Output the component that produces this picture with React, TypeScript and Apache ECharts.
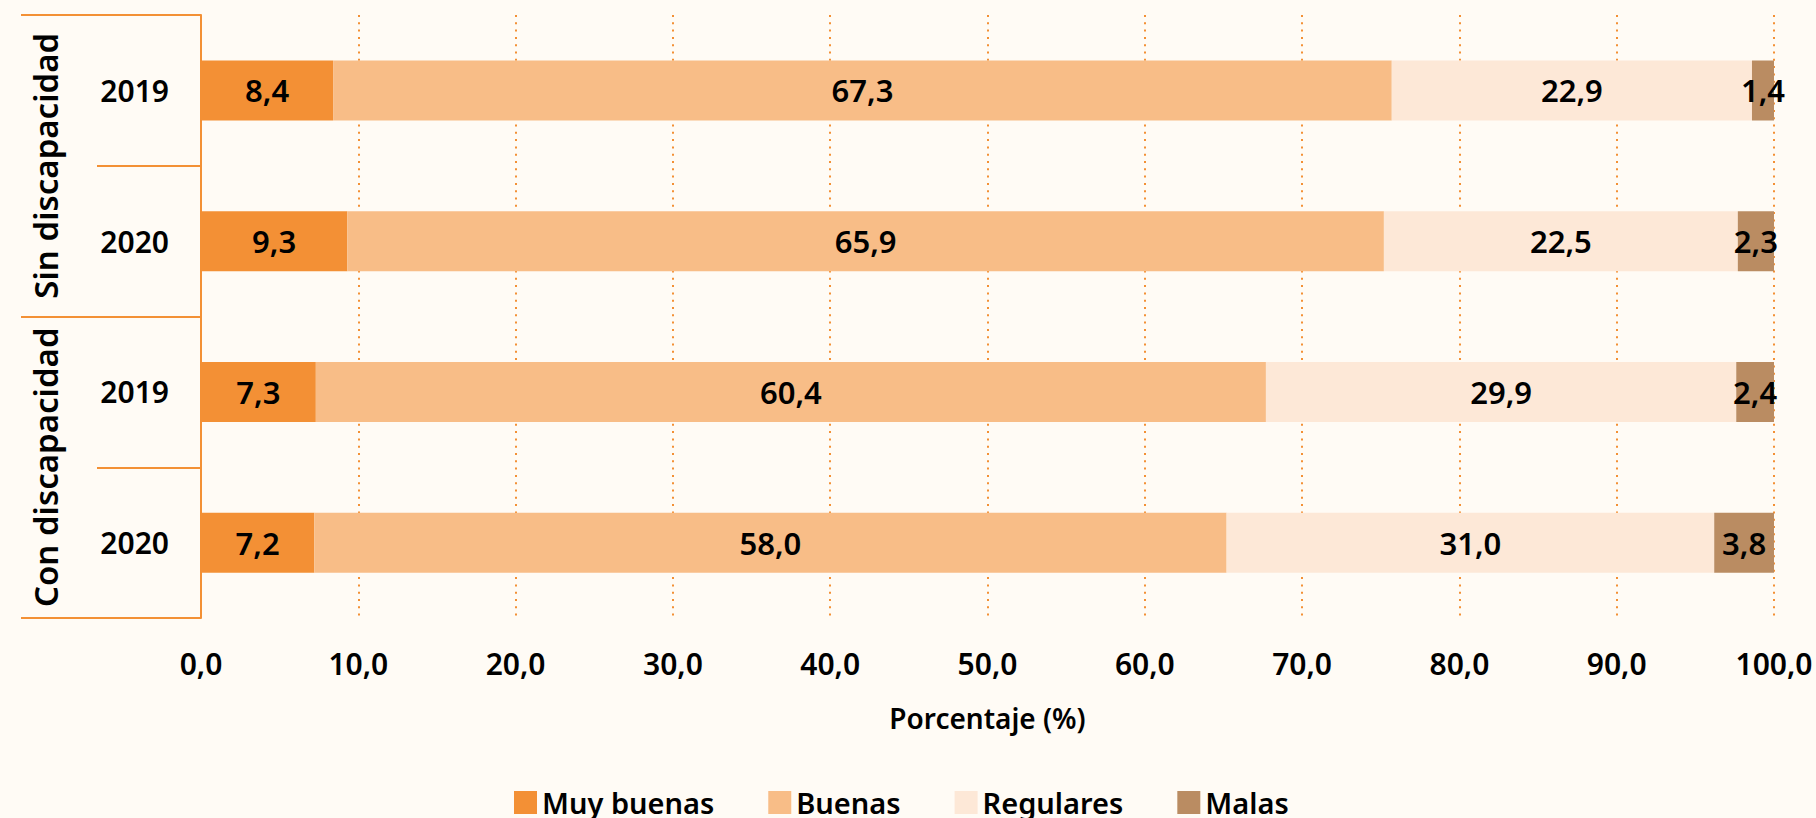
import React, { useEffect, useRef } from "react";
import * as echarts from "echarts";

const groups = ["Sin discapacidad", "Con discapacidad"];
const years = ["2019", "2020"];
const seriesNames = ["Muy buenas", "Buenas", "Regulares", "Malas"];
const seriesColors = ["#F39035", "#F8BD87", "#FDE8D7", "#BA8C62"];
// rows: Sin 2019, Sin 2020, Con 2019, Con 2020
const muyBuenas = [8.4, 9.3, 7.3, 7.2];
const buenas = [67.3, 65.9, 60.4, 58.0];
const regulares = [22.9, 22.5, 29.9, 31.0];
const malas = [1.4, 2.3, 2.4, 3.8];
const xTicks = [0, 10, 20, 30, 40, 50, 60, 70, 80, 90, 100];

const FONT = "'Noto Sans', sans-serif";
const ORANGE = "#F39035";
const fmt = (v: number) => v.toFixed(1).replace(".", ",");

export default function App() {
  const ref = useRef<HTMLDivElement>(null);
  useEffect(() => {
    document.body.style.margin = "0";
    document.body.style.background = "#FFFBF5";
    const chart = echarts.init(ref.current!, null, { renderer: "svg" });
    const rowKeys: string[] = [];
    groups.forEach((g) => years.forEach((y) => rowKeys.push(g + "|" + y)));
    const values = [muyBuenas, buenas, regulares, malas];
    chart.setOption({
      animation: false,
      backgroundColor: "#FFFBF5",
      textStyle: { fontFamily: FONT },
      grid: { left: 201, right: 42, top: 15, bottom: 200, containLabel: false },
      legend: {
        data: seriesNames,
        left: 509,
        top: 783,
        itemWidth: 23,
        itemHeight: 23,
        itemGap: 54,
        icon: "rect",
        textStyle: { fontFamily: FONT, fontSize: 29, fontWeight: 600, color: "#000" },
      },
      xAxis: {
        type: "value",
        min: xTicks[0],
        max: xTicks[xTicks.length - 1],
        interval: 10,
        axisLine: { show: false },
        axisTick: { show: false },
        axisLabel: {
          formatter: (v: number) => fmt(v),
          fontFamily: FONT,
          fontSize: 30,
          fontWeight: 600,
          color: "#000",
          margin: 30,
        },
        splitLine: {
          show: true,
          lineStyle: { color: ORANGE, width: 2, type: [2, 5.3] },
        },
        name: "Porcentaje (%)",
        nameLocation: "middle",
        nameGap: 86,
        nameTextStyle: { fontFamily: FONT, fontSize: 28, fontWeight: 600, color: "#000" },
      },
      yAxis: [
        {
          type: "category",
          data: rowKeys,
          inverse: true,
          position: "left",
          axisLine: { show: true, lineStyle: { color: ORANGE, width: 2 } },
          axisTick: { show: true, length: 104, lineStyle: { color: ORANGE, width: 2 } },
          axisLabel: {
            interval: 0,
            formatter: (v: string) => v.split("|")[1],
            fontFamily: FONT,
            fontSize: 30,
            fontWeight: 600,
            color: "#000",
            margin: 32,
          },
          splitLine: { show: false },
        },
        {
          type: "category",
          data: groups,
          inverse: true,
          position: "left",
          axisLine: { show: false },
          axisTick: { show: true, interval: 0, length: 180, lineStyle: { color: ORANGE, width: 2 } },
          axisLabel: {
            interval: 0,
            hideOverlap: false,
            rotate: 90,
            fontFamily: FONT,
            fontSize: 33,
            fontWeight: 600,
            color: "#000",
            margin: 139,
          },
          splitLine: { show: false },
        },
      ],
      series: seriesNames.map((name, i) => ({
        name,
        type: "bar",
        stack: "total",
        yAxisIndex: 0,
        barWidth: 60,
        itemStyle: { color: seriesColors[i] },
        label: {
          show: true,
          position: "inside",
          formatter: (p: any) => fmt(p.value),
          fontFamily: FONT,
          fontSize: 31,
          fontWeight: 600,
          color: "#000",
        },
        data: values[i],
      })),
    });
    return () => chart.dispose();
  }, []);
  return (
    <div
      ref={ref}
      style={{ position: "fixed", left: 0, top: 0, width: 1816, height: 818 }}
    />
  );
}
